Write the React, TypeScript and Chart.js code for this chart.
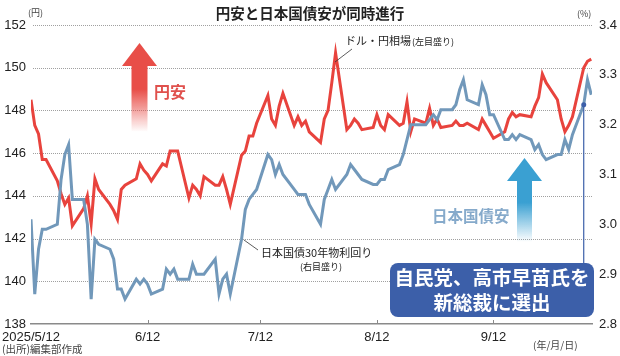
import React, { useEffect, useRef } from "react";
import { Chart, registerables } from "chart.js";

Chart.register(...registerables);

// Trading days (2025)
const DATES = [
  "5/12","5/13","5/14","5/15","5/16",
  "5/19","5/20","5/21","5/22","5/23",
  "5/26","5/27","5/28","5/29","5/30",
  "6/2","6/3","6/4","6/5","6/6",
  "6/9","6/10","6/11","6/12","6/13",
  "6/16","6/17","6/18","6/19","6/20",
  "6/23","6/24","6/25","6/26","6/27",
  "6/30","7/1","7/2","7/3","7/4",
  "7/7","7/8","7/9","7/10","7/11",
  "7/14","7/15","7/16","7/17","7/18",
  "7/21","7/22","7/23","7/24","7/25",
  "7/28","7/29","7/30","7/31","8/1",
  "8/4","8/5","8/6","8/7","8/8",
  "8/11","8/12","8/13","8/14","8/15",
  "8/18","8/19","8/20","8/21","8/22",
  "8/25","8/26","8/27","8/28","8/29",
  "9/1","9/2","9/3","9/4","9/5",
  "9/8","9/9","9/10","9/11","9/12",
  "9/15","9/16","9/17","9/18","9/19",
  "9/22","9/23","9/24","9/25","9/26",
  "9/29","9/30","10/1","10/2","10/3",
  "10/6","10/7","10/8",
];

// ドル・円相場 (円, left axis)
const USDJPY = [
  148.5, 147.3, 146.9, 145.7, 145.7,
  144.7, 144.1, 143.6, 143.9, 142.6,
  143.4, 144.0, 142.7, 144.8, 144.3,
  143.6, 143.3, 142.9, 144.3, 144.5,
  144.8, 145.5, 145.2, 145.0, 144.7,
  145.5, 145.4, 146.1, 146.1, 146.1,
  143.9, 144.5, 144.3, 144.0, 144.9,
  144.5, 144.5, 144.9, 144.3, 143.6,
  145.9, 146.1, 146.8, 146.8, 147.4,
  148.7, 147.6, 147.3, 148.2, 148.8,
  147.3, 147.7, 147.3, 147.5, 147.0,
  146.5, 147.6, 148.0, 149.3, 150.7,
  147.1, 147.3, 147.6, 147.4, 147.1,
  147.2, 147.8, 147.3, 147.1, 147.8,
  147.3, 147.4, 148.4, 147.0, 147.6,
  147.4, 148.1, 147.3, 147.6, 147.2,
  147.3, 147.5, 147.3, 147.3, 147.4,
  147.1, 147.6, 147.3, 147.0, 146.7,
  147.0, 147.6, 147.9, 147.7, 147.8,
  147.7, 148.2, 148.6, 149.7, 149.3,
  148.5, 147.6, 147.0, 147.3, 147.7,
  150.0, 150.3, 150.4,
];

// 日本国債30年物利回り (%, right axis)
const JGB30 = [
  3.01, 2.86, 2.95, 2.99, 2.99,
  3.00, 3.09, 3.14, 3.16, 3.05,
  3.05, 3.00, 2.85, 2.97, 2.96,
  2.95, 2.93, 2.87, 2.87, 2.85,
  2.89, 2.88, 2.89, 2.88, 2.86,
  2.87, 2.91, 2.90, 2.91, 2.89,
  2.89, 2.92, 2.90, 2.90, 2.90,
  2.93, 2.86, 2.89, 2.90, 2.86,
  2.97, 3.03, 3.05, 3.06, 3.07,
  3.14, 3.13, 3.10, 3.12, 3.10,
  3.07, 3.06, 3.06, 3.06, 3.04,
  3.00, 3.05, 3.07, 3.09, 3.07,
  3.10, 3.12, 3.11, 3.10, 3.09,
  3.08, 3.08, 3.09, 3.09, 3.11,
  3.12, 3.14, 3.17, 3.20, 3.20,
  3.20, 3.21, 3.22, 3.21, 3.23,
  3.23, 3.24, 3.27, 3.29, 3.25,
  3.24, 3.28, 3.26, 3.22, 3.22,
  3.17, 3.17, 3.18, 3.17, 3.18,
  3.17, 3.15, 3.16, 3.14, 3.13,
  3.14, 3.14, 3.17, 3.15, 3.18,
  3.24, 3.29, 3.26,
];

const X_TICK_DATES = ["5/12", "6/12", "7/12", "8/12", "9/12"];
const X_TICK_LABELS = ["2025/5/12", "6/12", "7/12", "8/12", "9/12"];
const ELECTION_DATE = "10/6";

const dayOffset = (s: string) => {
  const [m, d] = s.split("/").map(Number);
  return (Date.UTC(2025, m - 1, d) - Date.UTC(2025, 4, 12)) / 86400000;
};

const JP = '"Noto Sans CJK JP", sans-serif';
const NUM = '"Liberation Sans", Arial, sans-serif';

export default function App() {
  const ref = useRef<HTMLCanvasElement | null>(null);

  useEffect(() => {
    document.body.style.margin = "0";
    const canvas = ref.current;
    if (!canvas) return;

    const dottedGrid = {
      id: "dottedGrid",
      beforeDatasetsDraw(chart: any) {
        const ctx = chart.ctx as CanvasRenderingContext2D;
        const ys = chart.scales.y;
        const area = chart.chartArea;
        ctx.save();
        ctx.fillStyle = "#a0a0a0";
        ys.ticks.forEach((t: any) => {
          if (t.value === ys.min) return;
          const py = Math.round(ys.getPixelForValue(t.value));
          for (let x = Math.round(area.left) + 2; x < area.right + 1; x += 2) {
            ctx.fillRect(x, py, 1, 1);
          }
        });
        ctx.restore();
      },
    };

    const overlay = {
      id: "overlay",
      afterDraw(chart: any) {
        const ctx = chart.ctx as CanvasRenderingContext2D;
        const xs = chart.scales.x;
        const yR = chart.scales.yR;
        const area = chart.chartArea;
        ctx.save();

        // x tick marks above the axis line
        ctx.strokeStyle = "#8a8a8a";
        ctx.lineWidth = 1;
        X_TICK_DATES.slice(1).forEach((d) => {
          const px = Math.round(xs.getPixelForValue(dayOffset(d))) + 0.5;
          ctx.beginPath();
          ctx.moveTo(px, area.bottom - 4);
          ctx.lineTo(px, area.bottom);
          ctx.stroke();
        });

        // Title
        ctx.fillStyle = "#222";
        ctx.font = `bold 14.5px ${JP}`;
        ctx.textAlign = "center";
        ctx.textBaseline = "middle";
        ctx.fillText("円安と日本国債安が同時進行", 310, 13);

        // unit labels
        ctx.font = `9px ${JP}`;
        ctx.fillStyle = "#444";
        ctx.textAlign = "left";
        ctx.fillText("(円)", 28, 13);
        ctx.fillText("(%)", 577, 14);

        // source & date format
        ctx.font = `10.5px ${JP}`;
        ctx.fillStyle = "#444";
        ctx.fillText("(出所)編集部作成", 2, 349);
        ctx.font = `10px ${JP}`;
        ctx.fillText("(年/月/日)", 533, 345);

        const drawArrow = (cx: number, tip: number, base: number, end: number, hw: number, sw: number, color: string, fade: string) => {
          ctx.fillStyle = color;
          ctx.beginPath();
          ctx.moveTo(cx, tip);
          ctx.lineTo(cx + hw, base);
          ctx.lineTo(cx - hw, base);
          ctx.closePath();
          ctx.fill();
          const g = ctx.createLinearGradient(0, base, 0, end);
          g.addColorStop(0, color);
          g.addColorStop(0.35, color);
          g.addColorStop(1, fade);
          ctx.fillStyle = g;
          ctx.fillRect(cx - sw, base - 0.5, sw * 2, end - base);
        };
        drawArrow(139.5, 43, 66, 132, 17.5, 8, "rgba(232,78,72,1)", "rgba(232,78,72,0)");
        drawArrow(524.5, 158, 181, 242, 17.5, 7.5, "rgba(58,160,210,1)", "rgba(58,160,210,0)");

        ctx.font = `bold 16px ${JP}`;
        ctx.fillStyle = "#e0514d";
        ctx.textAlign = "left";
        ctx.fillText("円安", 154, 92);
        ctx.font = `bold 15.5px ${JP}`;
        ctx.fillStyle = "#86aacb";
        ctx.fillText("日本国債安", 432, 216);

        // Series labels
        ctx.fillStyle = "#222";
        ctx.font = `11px ${JP}`;
        ctx.fillText("ドル・円相場", 345, 41);
        const w1 = ctx.measureText("ドル・円相場").width;
        ctx.font = `9px ${JP}`;
        ctx.fillText("(左目盛り)", 345 + w1 + 1, 42);
        ctx.font = `11px ${JP}`;
        ctx.fillText("日本国債30年物利回り", 261, 253);
        ctx.font = `9px ${JP}`;
        ctx.textAlign = "center";
        ctx.fillText("(右目盛り)", 321, 267);

        ctx.strokeStyle = "#333";
        ctx.lineWidth = 0.8;
        ctx.beginPath();
        ctx.moveTo(335, 62);
        ctx.lineTo(352, 49);
        ctx.moveTo(244, 240);
        ctx.lineTo(258, 250);
        ctx.stroke();

        // Election marker
        const ei = DATES.indexOf(ELECTION_DATE);
        const ex = xs.getPixelForValue(dayOffset(ELECTION_DATE));
        const ey = yR.getPixelForValue(JGB30[ei]);
        ctx.strokeStyle = "#3c5fa9";
        ctx.lineWidth = 1.2;
        ctx.beginPath();
        ctx.moveTo(ex, ey);
        ctx.lineTo(ex, 264);
        ctx.stroke();
        ctx.fillStyle = "#3c5fa9";
        ctx.beginPath();
        ctx.arc(ex, ey, 2.5, 0, Math.PI * 2);
        ctx.fill();

        // Box
        ctx.fillStyle = "#3c5fa9";
        ctx.beginPath();
        (ctx as any).roundRect(390, 263, 204, 54, 8);
        ctx.fill();
        ctx.fillStyle = "#fff";
        ctx.font = `bold 19.5px ${JP}`;
        ctx.textAlign = "center";
        ctx.fillText("自民党、高市早苗氏を", 492, 278);
        ctx.fillText("新総裁に選出", 492, 303);

        ctx.restore();
      },
    };

    const chart = new Chart(canvas, {
      type: "line",
      data: {
        datasets: [
          {
            label: "日本国債30年物利回り",
            data: DATES.map((d, i) => ({ x: dayOffset(d), y: JGB30[i] })),
            yAxisID: "yR",
            borderColor: "#7198ba",
            borderWidth: 3,
            pointRadius: 0,
            tension: 0,
            order: 0,
          },
          {
            label: "ドル・円相場",
            data: DATES.map((d, i) => ({ x: dayOffset(d), y: USDJPY[i] })),
            yAxisID: "y",
            borderColor: "#e8433d",
            borderWidth: 3,
            pointRadius: 0,
            tension: 0,
            order: 1,
          },
        ],
      },
      options: {
        animation: false,
        responsive: false,
        maintainAspectRatio: false,
        devicePixelRatio: 1,
        layout: { padding: { top: 25, left: 0, right: 0, bottom: 0 } },
        plugins: { legend: { display: false }, tooltip: { enabled: false } },
        scales: {
          x: {
            type: "linear",
            min: 0,
            max: 149.2,
            afterFit: (s: any) => {
              s.height = 32;
              s.paddingLeft = 0;
              s.paddingRight = 0;
            },
            afterBuildTicks: (s: any) => {
              s.ticks = X_TICK_DATES.map((d) => ({ value: dayOffset(d) }));
            },
            ticks: {
              autoSkip: false,
              maxRotation: 0,
              padding: 6,
              color: "#222",
              font: { family: NUM, size: 13 },
              callback: (_v: any, i: number) => X_TICK_LABELS[i],
            },
            grid: { display: false, drawTicks: false },
            border: { display: true, color: "#8a8a8a", width: 1.5 },
          },
          y: {
            position: "left",
            min: 138,
            max: 152,
            afterFit: (s: any) => { s.width = 31; },
            ticks: {
              stepSize: 2,
              padding: 5,
              color: "#222",
              font: { family: NUM, size: 13 },
            },
            grid: { display: false, drawTicks: false },
            border: { display: false },
          },
          yR: {
            position: "right",
            min: 2.8,
            max: 3.4,
            afterFit: (s: any) => { s.width = 28; },
            ticks: {
              stepSize: 0.1,
              padding: 7,
              color: "#222",
              font: { family: NUM, size: 13 },
              callback: (v: any) => Number(v).toFixed(1),
            },
            grid: { display: false, drawTicks: false },
            border: { display: false },
          },
        },
      },
      plugins: [dottedGrid, overlay],
    } as any);

    return () => chart.destroy();
  }, []);

  return (
    <div style={{ position: "absolute", left: 0, top: 0, width: 620, height: 356, background: "#fff" }}>
      <canvas ref={ref} width={620} height={356} />
    </div>
  );
}
